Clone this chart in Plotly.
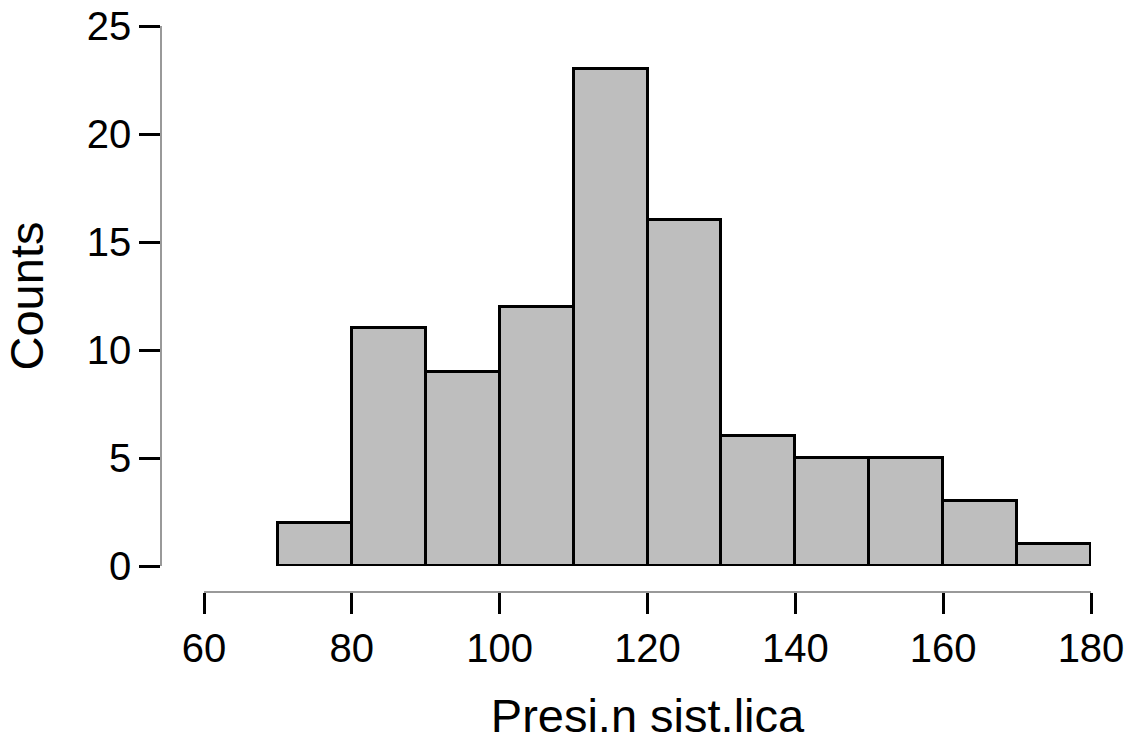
import plotly.graph_objects as go

# Histogram of systolic pressure: bin edges and counts per bin
bin_edges = [70, 80, 90, 100, 110, 120, 130, 140, 150, 160, 170, 180]
counts = [2, 11, 9, 12, 23, 16, 6, 5, 5, 3, 1]
x_ticks = [60, 80, 100, 120, 140, 160, 180]
y_ticks = [0, 5, 10, 15, 20, 25]

centers = [(a + b) / 2 for a, b in zip(bin_edges[:-1], bin_edges[1:])]
widths = [b - a for a, b in zip(bin_edges[:-1], bin_edges[1:])]

FONT = "Arial, Liberation Sans, sans-serif"

fig = go.Figure(
    go.Bar(
        x=centers,
        y=counts,
        width=widths,
        marker=dict(color="#BEBEBE", line=dict(color="black", width=3)),
        hoverinfo="x+y",
    )
)

W, H = 1130, 742
ml, mr, mt, mb = 10, 10, 10, 10
pw, ph = W - ml - mr, H - mt - mb

def fx(px):
    return (px - ml) / pw

def fy(py):
    return (H - mb - py) / ph

axis_common = dict(
    anchor="free",
    ticks="outside",
    ticklen=21,
    tickwidth=3.2,
    tickcolor="black",
    showline=True,
    linecolor="#999999",
    linewidth=1.5,
    showgrid=False,
    zeroline=False,
    automargin=False,
    tickfont=dict(size=40, family=FONT),
)

fig.update_layout(
    width=W,
    height=H,
    margin=dict(l=ml, r=mr, t=mt, b=mb),
    plot_bgcolor="white",
    paper_bgcolor="white",
    showlegend=False,
    bargap=0,
    font=dict(family=FONT, color="black"),
    xaxis=dict(
        range=[60, 180],
        domain=[fx(204), fx(1091)],
        position=fy(592),
        tickvals=x_ticks,
        title=dict(text="Presi.n sist.lica", font=dict(size=47, family=FONT), standoff=31),
        **axis_common,
    ),
    yaxis=dict(
        range=[0, 25],
        domain=[fy(566), fy(26)],
        position=fx(161),
        tickvals=y_ticks,
        title=dict(text="Counts", font=dict(size=47, family=FONT), standoff=27),
        **axis_common,
    ),
)

fig.write_html("out.html")
